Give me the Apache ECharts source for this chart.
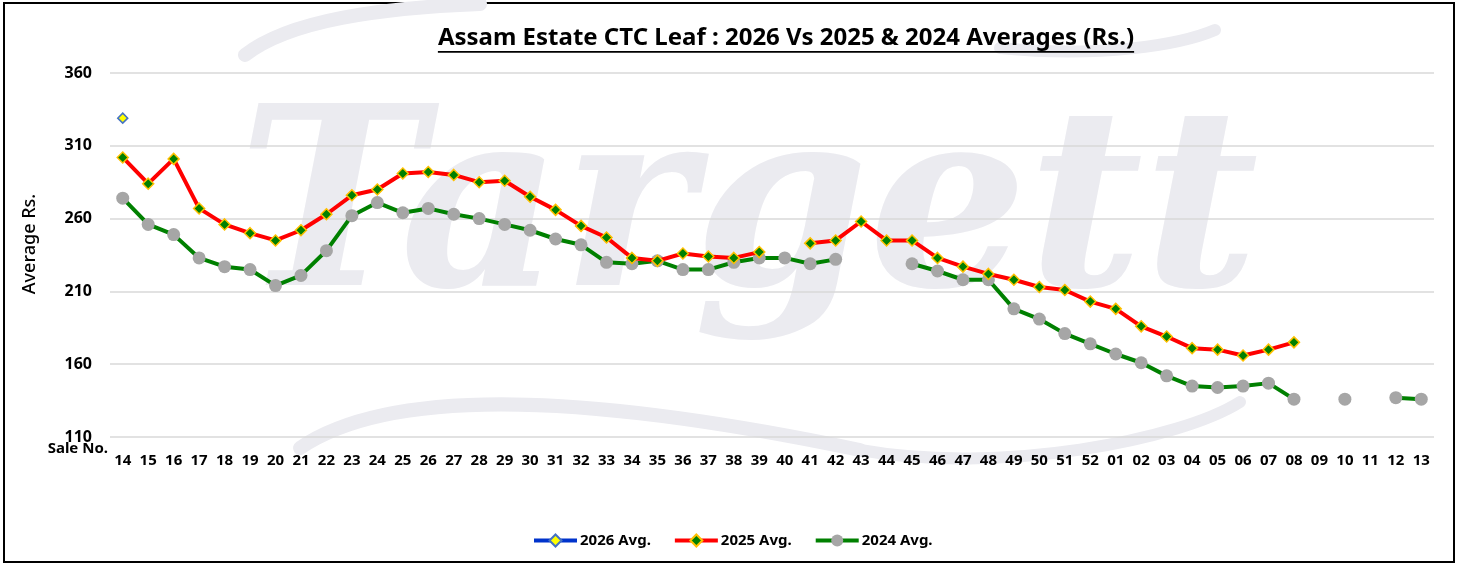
<!DOCTYPE html>
<html>
<head>
<meta charset="utf-8">
<script src="https://cdn.jsdelivr.net/npm/echarts@6/dist/echarts.min.js"></script>
<style>
html,body{margin:0;padding:0;background:#fff;}
#chart{width:1458px;height:566px;}
</style>
</head>
<body>
<div id="chart"></div>
<script>
const categories = ['14','15','16','17','18','19','20','21','22','23','24','25','26','27','28','29','30','31','32','33','34','35','36','37','38','39','40','41','42','43','44','45','46','47','48','49','50','51','52','01','02','03','04','05','06','07','08','09','10','11','12','13'];

const avg2026 = [329];

const avg2025 = [302,284,301,267,256,250,245,252,263,276,280,291,292,290,285,286,275,266,255,247,233,231,236,234,233,237,null,243,245,258,245,245,233,227,222,218,213,211,203,198,186,179,171,170,166,170,175,null,null,null,null,null];

const avg2024 = [274,256,249,233,227,225,214,221,238,262,271,264,267,263,260,256,252,246,242,230,229,231,225,225,230,233,233,229,232,null,null,229,224,218,218,198,191,181,174,167,161,152,145,144,145,147,136,null,136,null,137,136];

const yTicks = [110,160,210,260,310,360];
const titleText = 'Assam Estate CTC Leaf : 2026 Vs 2025 & 2024 Averages (Rs.)';

const chart = echarts.init(document.getElementById('chart'));
const FONT = '"Noto Sans", sans-serif';

const cv = document.createElement('canvas').getContext('2d');
cv.font = 'bold 24px "Noto Sans"';
const tw = cv.measureText(titleText).width;
const tcx = 786;
const WM = '#ebebf0';

chart.setOption({
  animation: false,
  backgroundColor: '#fff',
  graphic: [
    { type: 'rect', z: -10, silent: true, shape: { x: 4, y: 3, width: 1450, height: 559 }, style: { fill: '#fff', stroke: '#000', lineWidth: 2 } },
    { type: 'text', z: -5, silent: true, x: 238, y: 345,
      style: { text: 'Targett', font: 'italic bold 250px "DejaVu Serif"', fill: WM, textVerticalAlign: 'bottom' } },
    { type: 'bezierCurve', z: -5, silent: true, shape: { x1: 245, y1: 55, cpx1: 290, cpy1: 20, cpx2: 380, cpy2: 8, x2: 480, y2: 4 }, style: { stroke: WM, lineWidth: 14, fill: null, lineCap: 'round' } },
    { type: 'bezierCurve', z: -5, silent: true, shape: { x1: 1000, y1: 48, cpx1: 1100, cpy1: 58, cpx2: 1180, cpy2: 45, x2: 1215, y2: 30 }, style: { stroke: WM, lineWidth: 12, fill: null, lineCap: 'round' } },
    { type: 'bezierCurve', z: -5, silent: true, shape: { x1: 300, y1: 448, cpx1: 400, cpy1: 380, cpx2: 620, cpy2: 400, x2: 860, y2: 450 }, style: { stroke: WM, lineWidth: 14, fill: null, lineCap: 'round' } },
    { type: 'bezierCurve', z: -5, silent: true, shape: { x1: 860, y1: 450, cpx1: 1000, cpy1: 475, cpx2: 1180, cpy2: 440, x2: 1240, y2: 402 }, style: { stroke: WM, lineWidth: 12, fill: null, lineCap: 'round' } },
    { type: 'text', x: tcx, y: 38, style: { text: titleText, font: 'bold 24px "Noto Sans"', fill: '#000', align: 'center', verticalAlign: 'middle' } },
    { type: 'rect', shape: { x: tcx - tw / 2, y: 51, width: tw, height: 1.8 }, style: { fill: '#000' } },
    { type: 'text', x: 30, y: 244, rotation: Math.PI / 2, style: { text: 'Average Rs.', font: '500 18px "Noto Sans"', fill: '#000', align: 'center', verticalAlign: 'middle' } },
    { type: 'text', x: 108, y: 449, style: { text: 'Sale No.', font: 'bold 15px "Noto Sans"', fill: '#000', align: 'right', verticalAlign: 'middle' } }
  ],
  legend: {
    top: 533, left: 532, padding: 0,
    itemWidth: 43, itemHeight: 15, itemGap: 22,
    lineStyle: { width: 4 },
    textStyle: { fontFamily: FONT, fontWeight: 'bold', fontSize: 15, color: '#000', padding: [0, 0, 0, -2] },
    data: ['2026 Avg.', '2025 Avg.', '2024 Avg.']
  },
  grid: { left: 110, right: 24, top: 73, bottom: 129 },
  xAxis: {
    type: 'category', data: categories, boundaryGap: true,
    axisLine: { show: false }, axisTick: { show: false },
    axisLabel: { interval: 0, margin: 16, fontFamily: FONT, fontWeight: 'bold', fontSize: 15, color: '#000' }
  },
  yAxis: {
    type: 'value', min: 110, max: 360, interval: 50,
    axisLine: { show: false }, axisTick: { show: false },
    splitLine: { lineStyle: { color: '#d9d9d9', width: 1.5 } },
    axisLabel: { margin: 18, fontFamily: FONT, fontWeight: 'bold', fontSize: 16, color: '#000',
      formatter: v => yTicks.includes(v) ? String(v) : '' }
  },
  series: [
    { name: '2024 Avg.', type: 'line', data: avg2024, z: 2, connectNulls: false,
      lineStyle: { color: '#008000', width: 4 }, itemStyle: { color: '#a6a6a6' },
      symbol: 'circle', symbolSize: 13 },
    { name: '2025 Avg.', type: 'line', data: avg2025, z: 3, connectNulls: false,
      lineStyle: { color: '#ff0000', width: 4 }, itemStyle: { color: '#008000', borderColor: '#ffc000', borderWidth: 1.5 },
      symbol: 'diamond', symbolSize: 11 },
    { name: '2026 Avg.', type: 'line', data: avg2026, z: 4,
      lineStyle: { color: '#0033cc', width: 4 }, itemStyle: { color: '#ffff00', borderColor: '#4472c4', borderWidth: 1.5 },
      symbol: 'diamond', symbolSize: 10 }
  ]
});
</script>
</body>
</html>
